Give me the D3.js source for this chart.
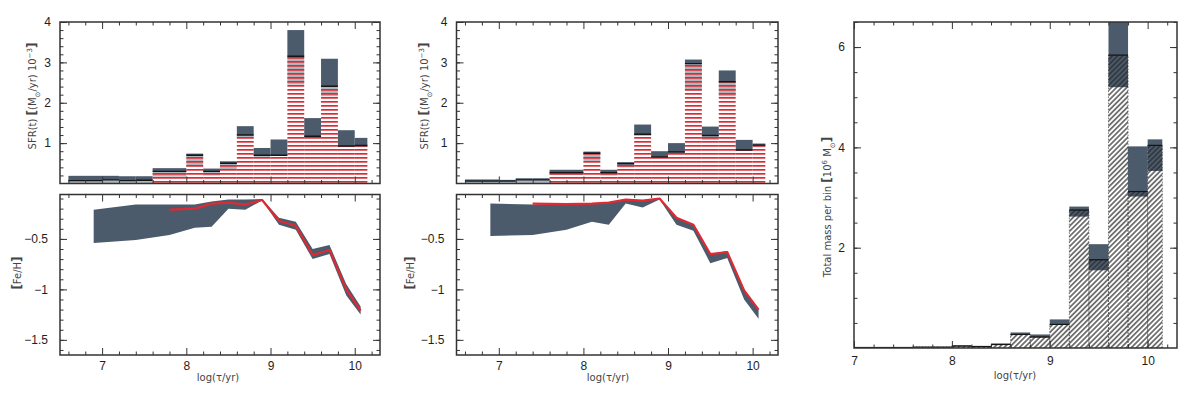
<!DOCTYPE html>
<html>
<head>
<meta charset="utf-8">
<script src="https://cdn.jsdelivr.net/npm/d3@7"></script>
<style>
body { margin: 0; background: #fff; }
svg { display: block; }
</style>
</head>
<body>
<svg id="chart" width="1200" height="398"></svg>
<script>
// age bins, log(tau/yr)
const binEdges = [6.6, 7.0, 7.2, 7.4, 7.6, 8.0, 8.2, 8.4, 8.6, 8.8, 9.0, 9.2, 9.4, 9.6, 9.8, 10.0, 10.15];

// SFR (1e-3 Msun/yr), left fit
const leftSfrHi   = [0.19, 0.19, 0.18, 0.18, 0.38, 0.74, 0.37, 0.55, 1.42, 0.88, 1.09, 3.80, 1.62, 3.09, 1.32, 1.13];
const leftSfrBest = [0.07, 0.09, 0.07, 0.08, 0.30, 0.70, 0.30, 0.50, 1.20, 0.70, 0.70, 3.15, 1.17, 2.41, 0.93, 0.94];
const leftSfrLo   = [0.00, 0.00, 0.00, 0.00, 0.17, 0.42, 0.20, 0.35, 1.12, 0.66, 0.68, 2.45, 1.14, 2.16, 0.90, 0.90];
const leftSfrRed  = [0.00, 0.00, 0.00, 0.00, 0.30, 0.70, 0.30, 0.50, 1.20, 0.70, 0.70, 3.15, 1.17, 2.41, 0.93, 0.94];

// SFR, middle fit
const midSfrHi   = [0.10, 0.09, 0.13, 0.13, 0.34, 0.79, 0.34, 0.53, 1.46, 0.80, 1.00, 3.07, 1.41, 2.80, 1.08, 0.99];
const midSfrBest = [0.06, 0.06, 0.09, 0.09, 0.27, 0.75, 0.27, 0.49, 1.22, 0.66, 0.78, 2.97, 1.19, 2.52, 0.83, 0.95];
const midSfrLo   = [0.00, 0.00, 0.00, 0.00, 0.21, 0.56, 0.20, 0.40, 1.18, 0.63, 0.76, 2.30, 1.08, 2.16, 0.82, 0.90];
const midSfrRed  = [0.00, 0.00, 0.00, 0.00, 0.27, 0.75, 0.27, 0.49, 1.22, 0.66, 0.78, 2.97, 1.19, 2.52, 0.83, 0.95];

// age-metallicity relation
const feX       = [6.9, 7.4, 7.8, 8.1, 8.3, 8.5, 8.7, 8.9, 9.1, 9.3, 9.5, 9.7, 9.9, 10.07];
const leftFeUp  = [-0.21, -0.16, -0.16, -0.16, -0.13, -0.11, -0.11, -0.105, -0.29, -0.33, -0.60, -0.56, -0.95, -1.17];
const leftFeLo  = [-0.54, -0.51, -0.46, -0.39, -0.38, -0.20, -0.21, -0.12, -0.36, -0.41, -0.70, -0.65, -1.06, -1.25];
const leftFeRed = [null, null, -0.21, -0.20, -0.15, -0.14, -0.16, -0.115, -0.32, -0.37, -0.66, -0.61, -1.00, -1.21];
const midFeUp   = [-0.15, -0.16, -0.155, -0.15, -0.14, -0.12, -0.12, -0.105, -0.29, -0.36, -0.65, -0.62, -1.01, -1.19];
const midFeLo   = [-0.47, -0.46, -0.41, -0.33, -0.36, -0.15, -0.19, -0.11, -0.36, -0.42, -0.74, -0.69, -1.10, -1.29];
const midFeRed  = [null, -0.15, -0.155, -0.15, -0.14, -0.11, -0.12, -0.10, -0.29, -0.36, -0.65, -0.63, -1.01, -1.20];

// total mass per bin (1e6 Msun)
const massHi   = [0, 0.01, 0.01, 0.01, 0.02, 0.05, 0.04, 0.09, 0.31, 0.27, 0.57, 2.82, 2.07, 6.80, 4.02, 4.16];
const massBest = [0, 0.01, 0.01, 0.01, 0.02, 0.04, 0.03, 0.07, 0.27, 0.22, 0.47, 2.75, 1.76, 5.84, 3.12, 4.04];
const massLo   = [0, 0.00, 0.00, 0.00, 0.01, 0.03, 0.02, 0.06, 0.26, 0.21, 0.46, 2.62, 1.55, 5.20, 3.02, 3.53];

// tick values
const ageMajor = [7, 8, 9, 10];
const sfrMajor = [1, 2, 3, 4];
const feMajor = [-0.5, -1, -1.5];
const massMajor = [2, 4, 6];

const dark = "#4b5b6c";
const red = "#df2a33";

const svg = d3.select("#chart");
const defs = svg.append("defs");

// red horizontal hatch
defs.append("pattern")
    .attr("id", "redHatch")
    .attr("patternUnits", "userSpaceOnUse")
    .attr("width", 8).attr("height", 4)
    .append("rect")
    .attr("x", 0).attr("y", 1).attr("width", 8).attr("height", 1.7)
    .attr("fill", red);

// black diagonal hatch
defs.append("pattern")
    .attr("id", "grayHatch")
    .attr("patternUnits", "userSpaceOnUse")
    .attr("width", 3.6).attr("height", 8)
    .attr("patternTransform", "rotate(45)")
    .append("line")
    .attr("x1", 1.8).attr("y1", 0).attr("x2", 1.8).attr("y2", 8)
    .attr("stroke", "#262626").attr("stroke-width", 1.2);

function range(a, b, step) {
    const out = [];
    for (let v = a; v <= b + 1e-9; v += step) out.push(+v.toFixed(3));
    return out;
}

function makePanel(id, left, top, w, h, xDomain, yDomain) {
    const x = d3.scaleLinear().domain(xDomain).range([left, left + w]);
    const y = d3.scaleLinear().domain(yDomain).range([top + h, top]);
    defs.append("clipPath").attr("id", "clip-" + id)
        .append("rect").attr("x", left).attr("y", top).attr("width", w).attr("height", h);
    const g = svg.append("g");
    const marks = g.append("g").attr("clip-path", `url(#clip-${id})`);
    return {x, y, g, marks, left, top, w, h};
}

const fmtNum = d => (d < 0 ? "\u2212" : "") + Math.abs(d);

function frame(p, xMinor, yMajor, yMinor, showX, yPad, xPad) {
    const add = (axis, tx, ty) => {
        const a = p.g.append("g")
            .attr("transform", `translate(${tx},${ty})`)
            .call(axis)
            .attr("font-family", "'Liberation Sans', Arial, sans-serif")
            .attr("font-size", 12)
            .attr("color", "#1e1e1e");
        a.select(".domain").remove();
        a.selectAll("line").attr("stroke", "#333");
        return a;
    };
    const bottom = p.top + p.h;
    const right = p.left + p.w;
    // bottom
    add(d3.axisBottom(p.x).tickValues(xMinor).tickSize(-3.5).tickFormat(""), 0, bottom);
    add(d3.axisBottom(p.x).tickValues(ageMajor).tickSize(-7).tickPadding(xPad)
        .tickFormat(showX ? d3.format("d") : ""), 0, bottom);
    // top
    add(d3.axisTop(p.x).tickValues(xMinor).tickSize(-3.5).tickFormat(""), 0, p.top);
    add(d3.axisTop(p.x).tickValues(ageMajor).tickSize(-7).tickFormat(""), 0, p.top);
    // left
    add(d3.axisLeft(p.y).tickValues(yMinor).tickSize(-3.5).tickFormat(""), p.left, 0);
    add(d3.axisLeft(p.y).tickValues(yMajor).tickSize(-7).tickPadding(yPad).tickFormat(fmtNum), p.left, 0);
    // right
    add(d3.axisRight(p.y).tickValues(yMinor).tickSize(-3.5).tickFormat(""), right, 0);
    add(d3.axisRight(p.y).tickValues(yMajor).tickSize(-7).tickFormat(""), right, 0);

    p.g.append("rect")
        .attr("x", p.left).attr("y", p.top)
        .attr("width", p.w).attr("height", p.h)
        .attr("fill", "none")
        .attr("stroke", "#333")
        .attr("stroke-width", 1.5);
}

const bins = d3.range(binEdges.length - 1);

function sfrPanel(p, hi, best, lo, redTop) {
    const bx = i => p.x(binEdges[i]);
    const bw = i => p.x(binEdges[i + 1]) - p.x(binEdges[i]);
    // error band below best (blended with hatch)
    p.marks.selectAll(".lowband").data(bins).enter().append("rect")
        .attr("x", bx).attr("width", bw)
        .attr("y", i => p.y(best[i]))
        .attr("height", i => Math.max(0, p.y(lo[i]) - p.y(best[i])))
        .attr("fill", dark).attr("fill-opacity", 0.45);
    // error band above best
    p.marks.selectAll(".hiband").data(bins).enter().append("rect")
        .attr("x", bx).attr("width", bw)
        .attr("y", i => p.y(hi[i]))
        .attr("height", i => Math.max(0, p.y(best[i]) - p.y(hi[i])))
        .attr("fill", dark);
    // red hatched fit
    p.marks.selectAll(".hatch").data(bins.filter(i => redTop[i] > 0)).enter().append("rect")
        .attr("x", bx).attr("width", bw)
        .attr("y", i => p.y(redTop[i]))
        .attr("height", i => p.y(0) - p.y(redTop[i]))
        .attr("fill", "url(#redHatch)");
    // best fit
    p.marks.selectAll(".best").data(bins).enter().append("line")
        .attr("x1", bx).attr("x2", i => bx(i) + bw(i))
        .attr("y1", i => p.y(best[i])).attr("y2", i => p.y(best[i]))
        .attr("stroke", "#151515").attr("stroke-width", 1.4);
}

function fePanel(p, up, lo, redLine) {
    const idx = d3.range(feX.length);
    const area = d3.area()
        .x(i => p.x(feX[i]))
        .y0(i => p.y(lo[i]))
        .y1(i => p.y(up[i]));
    p.marks.append("path").datum(idx).attr("d", area).attr("fill", dark);
    const line = d3.line()
        .defined(i => redLine[i] !== null)
        .x(i => p.x(feX[i]))
        .y(i => p.y(redLine[i]));
    p.marks.append("path").datum(idx).attr("d", line)
        .attr("fill", "none").attr("stroke", red).attr("stroke-width", 2.2)
        .attr("stroke-linejoin", "round");
}

function massPanel(p, hi, best, lo) {
    const bx = i => p.x(binEdges[i]);
    const bw = i => p.x(binEdges[i + 1]) - p.x(binEdges[i]);
    p.marks.selectAll(".band").data(bins).enter().append("rect")
        .attr("x", bx).attr("width", bw)
        .attr("y", i => p.y(hi[i]))
        .attr("height", i => Math.max(0, p.y(lo[i]) - p.y(hi[i])))
        .attr("fill", dark);
    p.marks.selectAll(".hatch").data(bins.filter(i => best[i] > 0)).enter().append("rect")
        .attr("x", bx).attr("width", bw)
        .attr("y", i => p.y(best[i]))
        .attr("height", i => p.y(0) - p.y(best[i]))
        .attr("fill", "url(#grayHatch)")
        .attr("stroke", "#333").attr("stroke-width", 0.6).attr("stroke-dasharray", "1.5,1.5");
    p.marks.selectAll(".best").data(bins).enter().append("line")
        .attr("x1", bx).attr("x2", i => bx(i) + bw(i))
        .attr("y1", i => p.y(best[i])).attr("y2", i => p.y(best[i]))
        .attr("stroke", "#151515").attr("stroke-width", 1.2);
}

function title(text, x, y, rotate) {
    const t = svg.append("text")
        .attr("font-family", "'DejaVu Sans', sans-serif")
        .attr("font-size", 10)
        .attr("fill", "#444")
        .attr("text-anchor", "middle")
        .attr("transform", rotate ? `translate(${x},${y}) rotate(-90)` : `translate(${x},${y})`);
    text.forEach(part => {
        const s = t.append("tspan").text(part.t);
        if (part.sub) s.attr("baseline-shift", "sub").attr("font-size", 7);
        if (part.sup) s.attr("baseline-shift", "super").attr("font-size", 7);
        if (part.big) s.attr("font-size", 12).attr("font-weight", "bold");
    });
}

const ageMinor = range(6.6, 10.2, 0.2).filter(v => Math.abs(v - Math.round(v)) > 1e-6);
const sfrTitle = [{t: "SFR(t) "}, {t: "[", big: true}, {t: "(M"}, {t: "\u2299", sub: true}, {t: "/yr)  10"}, {t: "\u22123", sup: true}, {t: "]", big: true}];
const feTitle = [{t: "[", big: true}, {t: "Fe/H"}, {t: "]", big: true}];
const ageTitle = [{t: "log(\u03c4/yr)"}];

// left column
const pA = makePanel("a", 60, 22, 320, 161.5, [6.5, 10.3], [0, 4]);
sfrPanel(pA, leftSfrHi, leftSfrBest, leftSfrLo, leftSfrRed);
frame(pA, ageMinor, sfrMajor, range(0.2, 3.8, 0.2), false, 9, 6);

const pB = makePanel("b", 60, 194.5, 320, 160.5, [6.5, 10.3], [-1.65, -0.06]);
fePanel(pB, leftFeUp, leftFeLo, leftFeRed);
frame(pB, ageMinor, feMajor, range(-1.6, -0.1, 0.1), true, 12, 6.5);

// middle column
const pC = makePanel("c", 456.5, 22, 321.5, 161.5, [6.5, 10.3], [0, 4]);
sfrPanel(pC, midSfrHi, midSfrBest, midSfrLo, midSfrRed);
frame(pC, ageMinor, sfrMajor, range(0.2, 3.8, 0.2), false, 9, 6);

const pD = makePanel("d", 456.5, 194.5, 321.5, 160.5, [6.5, 10.3], [-1.65, -0.06]);
fePanel(pD, midFeUp, midFeLo, midFeRed);
frame(pD, ageMinor, feMajor, range(-1.6, -0.1, 0.1), true, 12, 6.5);

// right column
const pE = makePanel("e", 854, 22, 323, 326, [7, 10.3], [0, 6.5]);
massPanel(pE, massHi, massBest, massLo);
frame(pE, range(7.2, 10.2, 0.2).filter(v => Math.abs(v - Math.round(v)) > 1e-6),
      massMajor, range(0.5, 6.5, 0.5), true, 9, 8.5);

// axis titles
title(sfrTitle, 36, 96, true);
title(feTitle, 21, 273, true);
title(ageTitle, 218, 381, false);
title(sfrTitle, 428, 96, true);
title(feTitle, 414, 273, true);
title(ageTitle, 608, 381, false);
title([{t: "Total mass per bin "}, {t: "[", big: true}, {t: "10"}, {t: "6", sup: true}, {t: " M"}, {t: "\u2299", sub: true}, {t: "]", big: true}], 831, 207, true);
title(ageTitle, 1015, 379, false);
</script>
</body>
</html>
